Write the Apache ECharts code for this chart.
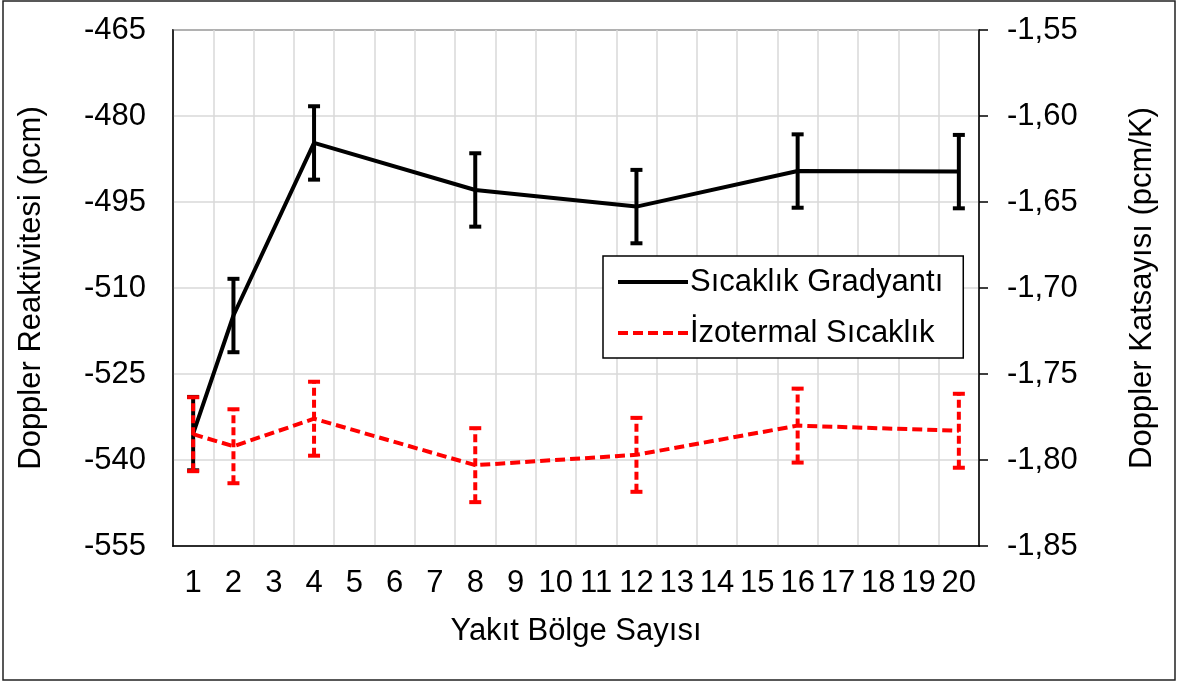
<!DOCTYPE html>
<html>
<head>
<meta charset="utf-8">
<script src="https://cdn.jsdelivr.net/npm/echarts@6/dist/echarts.min.js"></script>
<style>
  html, body { margin: 0; padding: 0; background: #fff; }
  #chart { width: 1180px; height: 684px; }
</style>
</head>
<body>
<div id="chart"></div>
<script>
// x categories: fuel zone counts 1..20
const categories = ["1","2","3","4","5","6","7","8","9","10","11","12","13","14","15","16","17","18","19","20"];
const zoneCounts = ["1", "2", "4", "8", "12", "16", "20"];

// Sıcaklık Gradyantı -> left axis (pcm)
const gradyanValues = [-535.4, -514.8, -484.7, -492.9, -495.8, -489.6, -489.7];
const gradyanErr = 6.4;

// İzotermal Sıcaklık -> right axis (pcm/K)
const izotermValues = [-1.785, -1.792, -1.776, -1.803, -1.797, -1.780, -1.783];
const izotermErr = 0.0215;

const leftTicks = { min: -555, max: -465, interval: 15 };
const rightTicks = { min: -1.85, max: -1.55, interval: 0.05 };

const FONT = "'Liberation Sans', Arial, sans-serif";
const FS = 31;

function errData(vals, err) {
  return zoneCounts.map((c, i) => [c, vals[i] - err, vals[i] + err]);
}

function errBar(color, dashed) {
  return function (params, api) {
    const x = api.value(0);
    const lo = api.coord([x, api.value(1)]);
    const hi = api.coord([x, api.value(2)]);
    const half = 6;
    const style = { stroke: color, lineWidth: 4, lineDash: dashed ? [8, 4] : null };
    return {
      type: "group",
      children: [
        { type: "line", shape: { x1: lo[0], y1: lo[1], x2: hi[0], y2: hi[1] }, style: style },
        { type: "line", shape: { x1: lo[0] - half, y1: lo[1], x2: lo[0] + half, y2: lo[1] }, style: { stroke: color, lineWidth: 4 } },
        { type: "line", shape: { x1: hi[0] - half, y1: hi[1], x2: hi[0] + half, y2: hi[1] }, style: { stroke: color, lineWidth: 4 } }
      ]
    };
  };
}

const chart = echarts.init(document.getElementById("chart"));
chart.setOption({
  animation: false,
  backgroundColor: "#fff",
  textStyle: { fontFamily: FONT, color: "#000" },
  graphic: [{
    type: "rect",
    shape: { x: 3, y: 1, width: 1172, height: 679 },
    style: { fill: null, stroke: "#222", lineWidth: 1.5 },
    silent: true
  }],
  grid: {
    left: 173, right: 201, top: 30, bottom: 138,
    show: true, borderColor: "#000", borderWidth: 1.5, backgroundColor: "transparent"
  },
  legend: {
    orient: "vertical",
    left: 603, top: 256,
    padding: [9, 20, 8, 13],
    itemWidth: 70, itemHeight: 14, itemGap: 17,
    backgroundColor: "#fff",
    borderColor: "#000", borderWidth: 1.5, borderRadius: 0,
    itemStyle: { opacity: 0 },
    lineStyle: { width: 4 },
    textStyle: { fontSize: FS, fontFamily: FONT, color: "#000", lineHeight: 34, padding: [0, 0, 0, -3] },
    data: ["Sıcaklık Gradyantı", "İzotermal Sıcaklık"]
  },
  xAxis: {
    type: "category",
    data: categories,
    boundaryGap: true,
    name: "Yakıt Bölge Sayısı",
    nameLocation: "middle",
    nameGap: 70,
    nameTextStyle: { fontSize: FS, fontFamily: FONT, color: "#000" },
    axisLine: { lineStyle: { color: "#000", width: 1.5 } },
    axisTick: { show: false },
    axisLabel: { interval: 0, fontSize: FS, color: "#000", fontFamily: FONT, margin: 22 },
    splitLine: { show: true, interval: 0, lineStyle: { color: "#d9d9d9", width: 1.5 } }
  },
  yAxis: [{
    type: "value",
    min: leftTicks.min, max: leftTicks.max, interval: leftTicks.interval,
    name: "Doppler Reaktivitesi (pcm)",
    nameLocation: "middle",
    nameGap: 126,
    nameRotate: 90,
    nameTextStyle: { fontSize: FS, fontFamily: FONT, color: "#000" },
    axisLine: { show: true, lineStyle: { color: "#000", width: 1.5 } },
    axisTick: { show: false },
    axisLabel: { fontSize: FS, color: "#000", fontFamily: FONT, margin: 27 },
    splitLine: { show: true, lineStyle: { color: "#d9d9d9", width: 1.5 } }
  }, {
    type: "value",
    position: "right",
    min: rightTicks.min, max: rightTicks.max, interval: rightTicks.interval,
    name: "Doppler Katsayısı (pcm/K)",
    nameLocation: "middle",
    nameGap: 148,
    nameRotate: 90,
    nameTextStyle: { fontSize: FS, fontFamily: FONT, color: "#000" },
    axisLine: { show: true, lineStyle: { color: "#000", width: 1.5 } },
    axisTick: { show: true, inside: false, length: 9, lineStyle: { color: "#000", width: 1.5 } },
    axisLabel: {
      fontSize: FS, color: "#000", fontFamily: FONT, margin: 28,
      formatter: v => v.toFixed(2).replace(".", ",")
    },
    splitLine: { show: false }
  }],
  series: [{
    name: "Sıcaklık Gradyantı",
    type: "line",
    yAxisIndex: 0,
    data: zoneCounts.map((c, i) => [c, gradyanValues[i]]),
    connectNulls: true,
    symbol: "none",
    color: "#000",
    lineStyle: { color: "#000", width: 4 },
    z: 2
  }, {
    name: "gradyanErr",
    type: "custom",
    yAxisIndex: 0,
    data: errData(gradyanValues, gradyanErr),
    renderItem: errBar("#000", false),
    z: 3
  }, {
    name: "İzotermal Sıcaklık",
    type: "line",
    yAxisIndex: 1,
    data: zoneCounts.map((c, i) => [c, izotermValues[i]]),
    connectNulls: true,
    symbol: "none",
    color: "#ff0000",
    lineStyle: { color: "#ff0000", width: 4, type: [10, 5] },
    z: 4
  }, {
    name: "izotermErr",
    type: "custom",
    yAxisIndex: 1,
    data: errData(izotermValues, izotermErr),
    renderItem: errBar("#ff0000", true),
    z: 5
  }]
});
</script>
</body>
</html>
